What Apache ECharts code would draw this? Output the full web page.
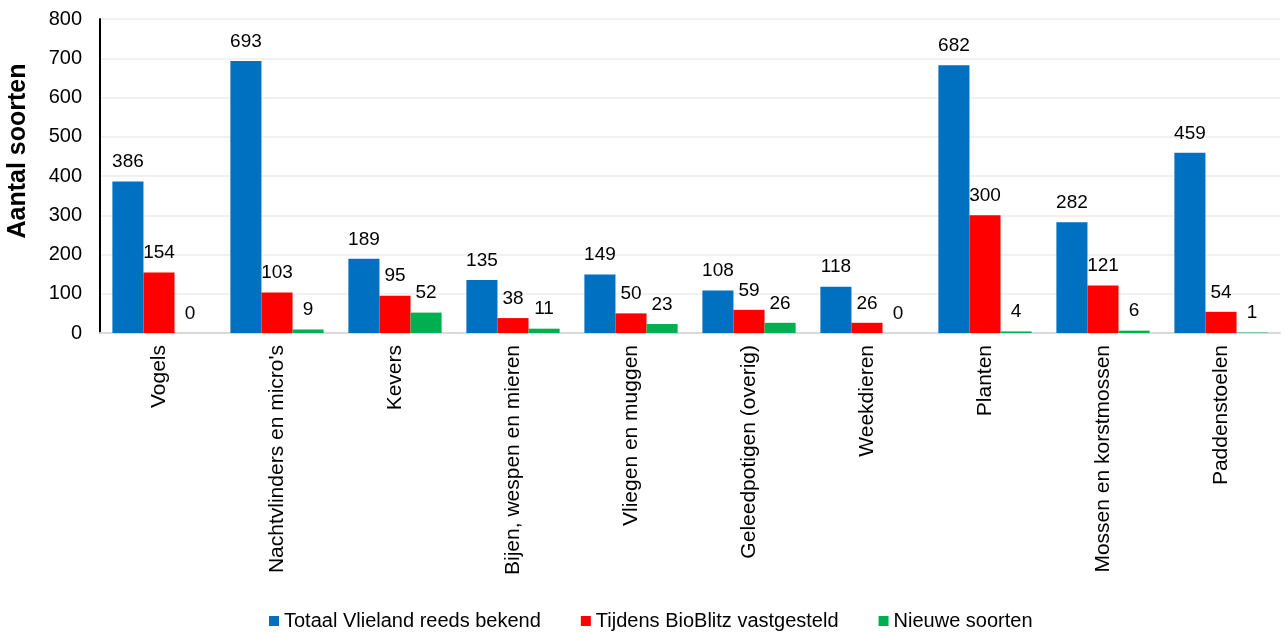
<!DOCTYPE html>
<html><head><meta charset="utf-8">
<script src="https://cdn.jsdelivr.net/npm/echarts@6/dist/echarts.min.js"></script>
<style>html,body{margin:0;padding:0;background:#fff}#c{width:1285px;height:632px}</style>
</head><body><div id="c"></div>
<script>
const categories = ["Vogels","Nachtvlinders en micro's","Kevers","Bijen, wespen en mieren","Vliegen en muggen","Geleedpotigen (overig)","Weekdieren","Planten","Mossen en korstmossen","Paddenstoelen"];
const totaal = [386,693,189,135,149,108,118,682,282,459];
const bioblitz = [154,103,95,38,50,59,26,300,121,54];
const nieuw = [0,9,52,11,23,26,0,4,6,1];
const seriesNames = ["Totaal Vlieland reeds bekend","Tijdens BioBlitz vastgesteld","Nieuwe soorten"];
const yTicks = [0,100,200,300,400,500,600,700,800];

const font = 'Liberation Sans, Arial, sans-serif';
const chart = echarts.init(document.getElementById('c'));
const lbl = {show:true, position:'top', distance:10, color:'#000', fontSize:19, fontFamily:font};
chart.setOption({
  animation:false,
  textStyle:{fontFamily:font},
  grid:{left:100, right:5, top:19, bottom:299},
  legend:{bottom:-4, left:264, itemWidth:10, itemHeight:10, itemGap:40, icon:'rect',
    textStyle:{fontSize:20, color:'#000', fontFamily:font, padding:[0,0,0,0]}},
  graphic:[{type:'text', x:18, y:151, rotation:Math.PI/2,
    style:{text:'Aantal soorten', font:'bold 25px '+font, fill:'#000', align:'center', verticalAlign:'middle'}}],
  xAxis:{type:'category', data:categories,
    axisLine:{lineStyle:{color:'#d9d9d9', width:2}}, axisTick:{show:false},
    axisLabel:{rotate:90, color:'#000', fontSize:21, fontFamily:font, margin:12, interval:0}},
  yAxis:{type:'value', min:yTicks[0], max:yTicks[yTicks.length-1], interval:100,
    axisLine:{show:true, lineStyle:{color:'#000', width:2}}, axisTick:{show:false},
    axisLabel:{color:'#000', fontSize:20, fontFamily:font, margin:18},
    splitLine:{lineStyle:{color:'#ececec', width:1.5}}},
  series:[
    {name:seriesNames[0], type:'bar', data:totaal, itemStyle:{color:'#0070C0'}, barGap:'0%', barCategoryGap:'21%', label:lbl},
    {name:seriesNames[1], type:'bar', data:bioblitz, itemStyle:{color:'#FF0000'}, label:lbl},
    {name:seriesNames[2], type:'bar', data:nieuw, itemStyle:{color:'#00B050'}, label:lbl}
  ]
});
</script></body></html>
